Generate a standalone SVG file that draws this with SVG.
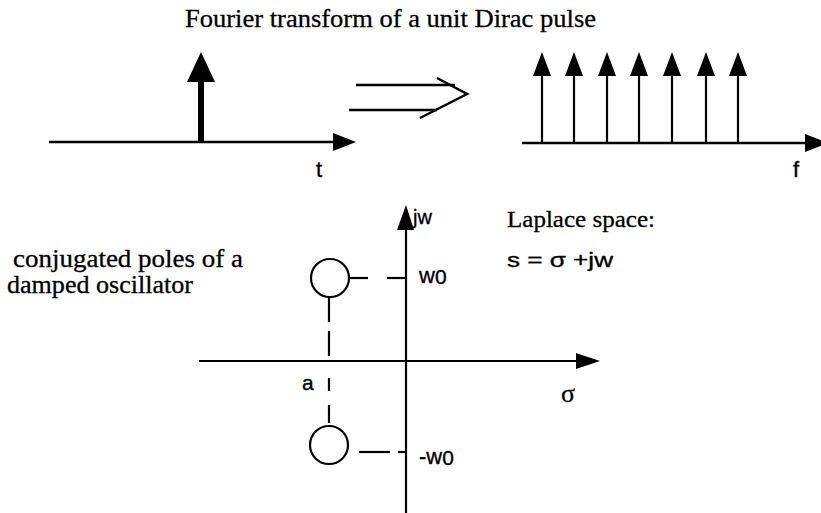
<svg xmlns="http://www.w3.org/2000/svg" width="821" height="513" viewBox="0 0 821 513">
  <style>
    .ax { stroke: #000; stroke-width: 2.5; fill: none; }
    .thin { stroke: #000; stroke-width: 2.2; fill: none; }
    .head { fill: #000; stroke: none; }
    .serif { font-family: "Liberation Serif", "Times New Roman", serif; fill: #000; stroke: #000; stroke-width: 0.3; }
    .sans { font-family: "Liberation Sans", Arial, sans-serif; fill: #000; stroke: #000; stroke-width: 0.35; }
  </style>
  <rect width="821" height="513" fill="#fff"/>

  <g id="title">
    <text class="serif" x="185" y="27" font-size="26" textLength="411" lengthAdjust="spacingAndGlyphs">Fourier transform of a unit Dirac pulse</text>
  </g>

  <g id="time-plot">
    <line class="ax" x1="49" y1="142" x2="336" y2="142"/>
    <polygon class="head" points="333,133 356,142 333,151"/>
    <line x1="201" y1="142" x2="201" y2="80" stroke="#000" stroke-width="6"/>
    <polygon class="head" points="187,82 201,52 215,82"/>
    <text class="sans" x="316" y="177" font-size="22">t</text>
  </g>

  <g id="implies-arrow">
    <line class="ax" x1="356" y1="85" x2="455" y2="85"/>
    <line class="ax" x1="349" y1="110" x2="437" y2="110"/>
    <polyline class="ax" points="437,78 467,94 420,118"/>
  </g>

  <g id="freq-plot">
    <line class="ax" x1="522" y1="143" x2="808" y2="143"/>
    <polygon class="head" points="805,134 828,143 805,152"/>
    <g class="pulses">
      <line class="thin" x1="542" y1="143" x2="542" y2="74"/>
      <line class="thin" x1="574" y1="143" x2="574" y2="74"/>
      <line class="thin" x1="607" y1="143" x2="607" y2="74"/>
      <line class="thin" x1="639" y1="143" x2="639" y2="74"/>
      <line class="thin" x1="672" y1="143" x2="672" y2="74"/>
      <line class="thin" x1="706" y1="143" x2="706" y2="74"/>
      <line class="thin" x1="738" y1="143" x2="738" y2="74"/>
      <polygon class="head" points="533,76 542,52 551,76"/>
      <polygon class="head" points="565,76 574,52 583,76"/>
      <polygon class="head" points="598,76 607,52 616,76"/>
      <polygon class="head" points="630,76 639,52 648,76"/>
      <polygon class="head" points="663,76 672,52 681,76"/>
      <polygon class="head" points="697,76 706,52 715,76"/>
      <polygon class="head" points="729,76 738,52 747,76"/>
    </g>
    <text class="sans" x="793" y="177" font-size="22">f</text>
  </g>

  <g id="laplace-axes">
    <line class="thin" x1="199" y1="361" x2="580" y2="361"/>
    <polygon class="head" points="576,353 600,361 576,369"/>
    <line class="thin" x1="406" y1="513" x2="406" y2="228"/>
    <polygon class="head" points="397,230 406,205 414,230"/>
    <text class="sans" x="413" y="224" font-size="20">jw</text>
    <text class="serif" x="561" y="402" font-size="26">σ</text>
  </g>

  <g id="pole-upper">
    <circle class="thin" cx="330" cy="278" r="19"/>
    <line class="thin" x1="349" y1="278" x2="368" y2="278"/>
    <line class="thin" x1="387" y1="278" x2="406" y2="278"/>
    <text class="sans" x="419" y="283" font-size="22">w<tspan font-size="21" dy="1">0</tspan></text>
  </g>

  <g id="pole-lower">
    <circle class="thin" cx="329" cy="445" r="19"/>
    <line class="thin" x1="359" y1="452" x2="390" y2="452"/>
    <line class="thin" x1="398" y1="452" x2="406" y2="452"/>
    <text class="sans" x="419" y="464" font-size="22">-w<tspan font-size="21" dy="1">0</tspan></text>
  </g>

  <g id="real-part">
    <line class="thin" x1="329" y1="297" x2="329" y2="322"/>
    <line class="thin" x1="329" y1="331" x2="329" y2="356"/>
    <line class="thin" x1="329" y1="378" x2="329" y2="391"/>
    <line class="thin" x1="329" y1="405" x2="329" y2="423"/>
    <text class="sans" x="302" y="390" font-size="21">a</text>
  </g>

  <g id="pole-caption">
    <text class="serif" x="13" y="267" font-size="25" textLength="230" lengthAdjust="spacingAndGlyphs">conjugated poles of a</text>
    <text class="serif" x="7" y="293" font-size="25" textLength="186" lengthAdjust="spacingAndGlyphs">damped oscillator</text>
  </g>

  <g id="laplace-caption">
    <text class="serif" x="507" y="227" font-size="24" textLength="148" lengthAdjust="spacingAndGlyphs">Laplace space:</text>
    <text class="sans" x="507" y="267" font-size="21" textLength="106" lengthAdjust="spacingAndGlyphs">s = σ +jw</text>
  </g>
</svg>
